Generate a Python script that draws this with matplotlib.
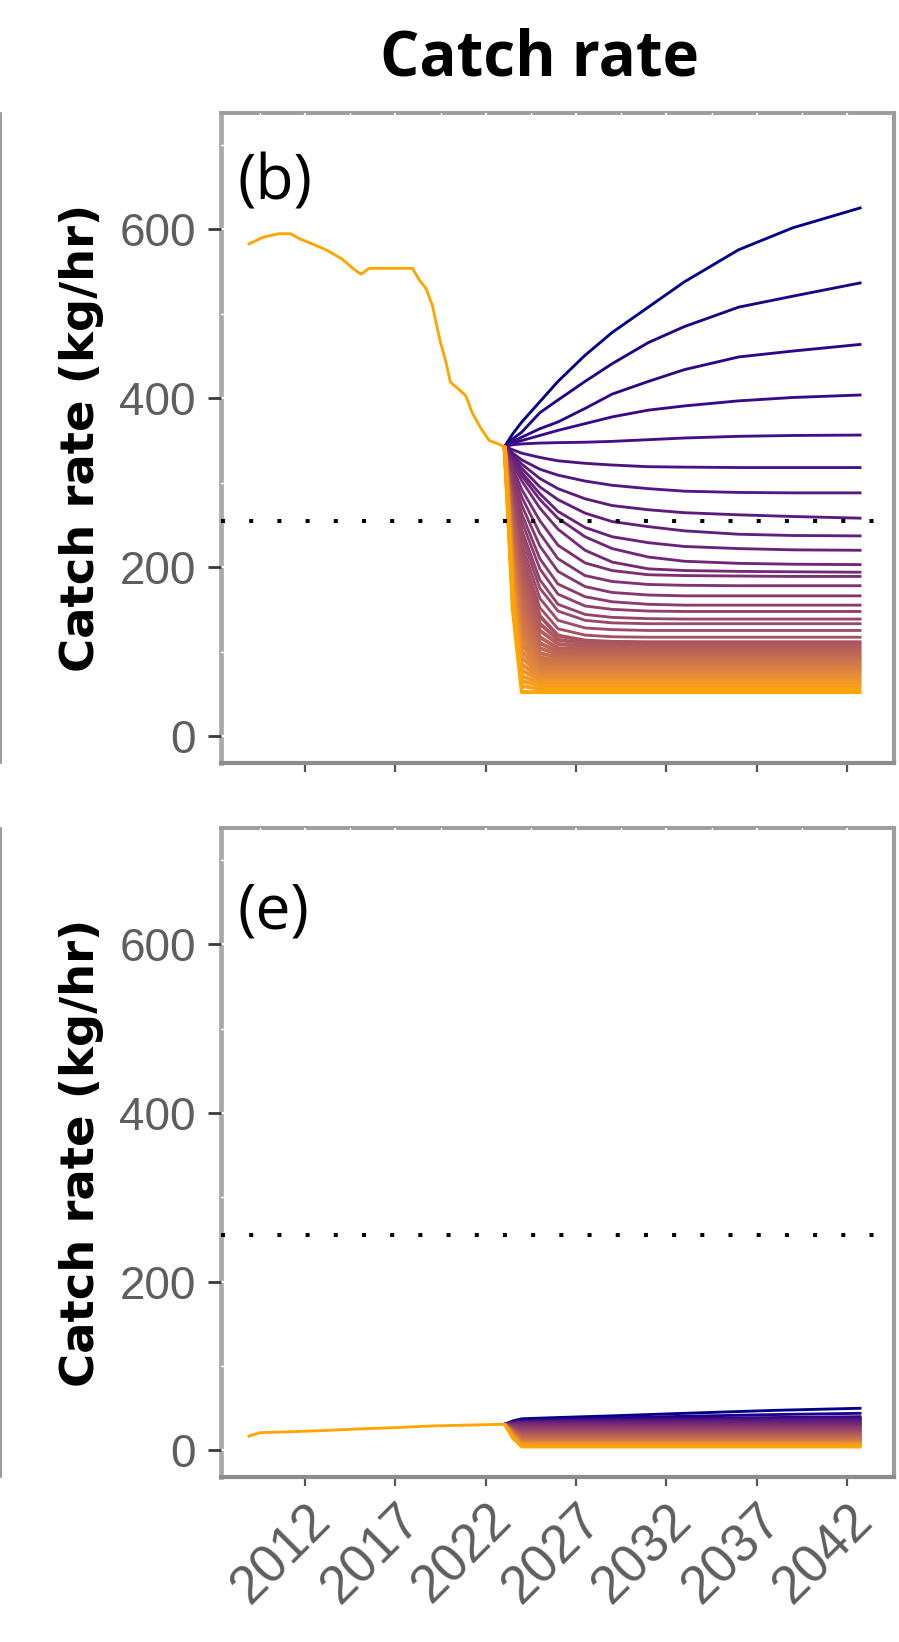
import numpy as np
import matplotlib
matplotlib.use("Agg")
import matplotlib.pyplot as plt

# ---------------- data ----------------
hist_years_b = [2008.9, 2009.1, 2009.7, 2010.55, 2011.2, 2011.7, 2012.4, 2013.25, 2014.05,
                2014.7, 2015.1, 2015.55, 2017.95, 2018.3, 2018.7, 2019.05, 2019.25, 2019.5,
                2019.8, 2020.05, 2020.5, 2020.9, 2021.25, 2021.75, 2022.2, 2022.8, 2023.05]
hist_vals_b = [583, 585, 591, 595, 595, 589, 583, 575, 565, 553, 547, 554, 554, 541, 530,
               510, 490, 466, 443, 419, 411, 403, 383, 364, 350, 345, 343]

proj_years_b = [2023.05, 2023.5, 2024, 2025, 2026, 2027.5, 2029, 2031, 2033, 2036, 2039, 2042.8]
proj_vals_b = [
    [343, 358, 372, 396, 420, 451, 478, 508, 538, 576, 602, 626],
    [343, 352, 360, 383, 398, 420, 441, 466, 485, 508, 521, 537],
    [343, 349, 354, 364, 372, 388, 405, 420, 434, 449, 456, 464],
    [343, 347, 350, 356, 362, 370, 378, 386, 391, 397, 401, 404],
    [343, 345, 346, 347, 347.5, 348, 349, 351, 353, 355, 356, 356.5],
    [343, 339, 335, 330, 326, 323, 321, 319, 318.5, 318, 318, 318],
    [343, 335, 327, 316, 309, 302, 297, 293, 290, 288.5, 288, 288],
    [343, 332, 322, 305, 293, 281, 273, 268, 264.5, 262, 260, 258],
    [343, 329, 317, 295, 280, 264, 254, 248, 243, 239, 237.5, 237],
    [343, 327, 312, 287, 266, 247, 236, 229, 224.5, 222, 220.5, 220],
    [343, 325, 308, 280, 258, 236, 222, 212, 207, 204.5, 203.5, 203],
    [343, 322, 302, 270, 245, 220, 206, 198, 196, 195, 194.5, 194],
    [343, 317, 292, 255, 226, 205, 196, 191, 190, 189.5, 189, 189],
    [343, 312, 283, 240, 210, 190, 183, 179.5, 178.5, 178, 178, 178],
    [343, 307, 273, 225, 195, 177, 170, 167, 166, 166, 166, 166],
    [343, 301, 263, 210, 180, 165, 159, 156, 155, 155, 155, 155],
    [343, 296, 254, 198, 168, 154, 150, 148, 147.5, 147.5, 147.5, 147.5],
    [343, 290, 244, 185, 156, 144, 140.5, 139, 138.5, 138.5, 138.5, 138.5],
    [343, 285, 236, 175, 148, 137, 134, 133, 133, 133, 133, 133],
    [343, 279, 227, 163, 137, 128, 126, 125, 125, 125, 125, 125],
    [343, 273, 218, 152, 127, 119.5, 117.5, 117, 117, 117, 117, 117],
    [343, 267, 209, 142, 119, 113, 111.5, 111, 111, 111, 111, 111],
    [343, 261, 200, 133, 114, 109.5, 108, 108, 108, 108, 108, 108],
    [343, 255, 191, 125, 109, 106, 105, 105, 105, 105, 105, 105],
    [343, 249, 182, 117, 104, 102.5, 102, 102, 102, 102, 102, 102],
    [343, 243, 173, 110, 100, 99, 99, 99, 99, 99, 99, 99],
    [343, 237, 164, 104, 97, 96, 96, 96, 96, 96, 96, 96],
    [343, 231, 155, 98, 93.5, 93, 93, 93, 93, 93, 93, 93],
    [343, 225, 146, 93, 90, 90, 90, 90, 90, 90, 90, 90],
    [343, 219, 137, 89, 87, 87, 87, 87, 87, 87, 87, 87],
    [343, 213, 128, 85, 84, 84, 84, 84, 84, 84, 84, 84],
    [343, 207, 119, 82, 81, 81, 81, 81, 81, 81, 81, 81],
    [343, 201, 110, 78.5, 78, 78, 78, 78, 78, 78, 78, 78],
    [343, 195, 101, 75, 75, 75, 75, 75, 75, 75, 75, 75],
    [343, 189, 93, 72, 72, 72, 72, 72, 72, 72, 72, 72],
    [343, 183, 85, 69, 69, 69, 69, 69, 69, 69, 69, 69],
    [343, 177, 78, 66, 66, 66, 66, 66, 66, 66, 66, 66],
    [343, 171, 71, 63, 63, 63, 63, 63, 63, 63, 63, 63],
    [343, 165, 65, 60, 60, 60, 60, 60, 60, 60, 60, 60],
    [343, 159, 59, 56, 56, 56, 56, 56, 56, 56, 56, 56],
    [343, 150, 52, 52, 52, 52, 52, 52, 52, 52, 52, 52],
]

hist_years_e = [2008.9, 2009.5, 2011, 2013, 2015, 2017, 2019, 2021, 2023.05]
hist_vals_e = [17, 21, 22, 23.5, 25.5, 27, 29, 30, 31]

proj_years_e = [2023.05, 2023.5, 2024, 2026, 2029, 2033, 2038, 2042.8]
proj_vals_e = [
    [31, 35, 37.5, 39, 41, 44, 47.5, 50],
    [31, 34, 35.5, 37, 38.5, 40.5, 42.5, 44],
    [31, 33.5, 35, 36, 37, 38, 39, 40],
    [31, 33, 34.5, 35.5, 36.5, 37, 38, 38.5],
    [31, 33, 34, 35, 36, 36.5, 37, 37.5],
    [31, 32.5, 33.5, 34.5, 35, 35.5, 36, 36.5],
    [31, 32.5, 33, 34, 34.5, 35, 35.5, 35.5],
    [31, 32, 33, 33.5, 34, 34, 34.5, 34.5],
    [31, 32, 32.5, 33, 33, 33.5, 33.5, 33.5],
    [31, 31.5, 32, 32, 32.5, 32.5, 32.5, 32.5],
    [31, 31, 31.5, 31.5, 31.5, 31.5, 31.5, 31.5],
    [31, 30.5, 30.5, 30.5, 30.5, 30.5, 30.5, 30.5],
    [31, 30, 29.5, 29.5, 29.5, 29.5, 29.5, 29.5],
    [31, 29.5, 28.5, 28.5, 28.5, 28.5, 28.5, 28.5],
    [31, 29, 27.5, 27.5, 27.5, 27.5, 27.5, 27.5],
    [31, 28.5, 26.5, 26.5, 26.5, 26.5, 26.5, 26.5],
    [31, 27.5, 25, 25, 25, 25, 25, 25],
    [31, 27, 24, 24, 24, 24, 24, 24],
    [31, 26.5, 23, 23, 23, 23, 23, 23],
    [31, 26, 22, 22, 22, 22, 22, 22],
    [31, 25.5, 21, 21, 21, 21, 21, 21],
    [31, 25, 20, 20, 20, 20, 20, 20],
    [31, 24.5, 19, 19, 19, 19, 19, 19],
    [31, 24, 18, 18, 18, 18, 18, 18],
    [31, 23.5, 17, 17, 17, 17, 17, 17],
    [31, 23, 16, 16, 16, 16, 16, 16],
    [31, 22.5, 15, 15, 15, 15, 15, 15],
    [31, 22, 14, 14, 14, 14, 14, 14],
    [31, 21.5, 13, 13, 13, 13, 13, 13],
    [31, 21, 12, 12, 12, 12, 12, 12],
    [31, 20.5, 11, 11, 11, 11, 11, 11],
    [31, 20, 10, 10, 10, 10, 10, 10],
    [31, 19.5, 9.5, 9.5, 9.5, 9.5, 9.5, 9.5],
    [31, 19, 9, 9, 9, 9, 9, 9],
    [31, 18.5, 8.5, 8.5, 8.5, 8.5, 8.5, 8.5],
    [31, 18, 8, 8, 8, 8, 8, 8],
    [31, 17.5, 7.5, 7.5, 7.5, 7.5, 7.5, 7.5],
    [31, 17, 7, 7, 7, 7, 7, 7],
    [31, 16, 6, 6, 6, 6, 6, 6],
    [31, 15, 5, 5, 5, 5, 5, 5],
    [31, 14, 4, 4, 4, 4, 4, 4],
]

reference_level = 255
x_ticks = [2012, 2017, 2022, 2027, 2032, 2037, 2042]
x_tick_labels = ["2012", "2017", "2022", "2027", "2032", "2037", "2042"]
y_ticks = [0, 200, 400, 600]
y_tick_labels = ["0", "200", "400", "600"]

# ---------------- colour ramp (CIELAB, like ggplot's gradient) ----------------
_M = np.array([[0.4124, 0.3576, 0.1805], [0.2126, 0.7152, 0.0722], [0.0193, 0.1192, 0.9505]])
_WP = np.array([0.95047, 1.0, 1.08883])


def _to_lab(hexc):
    rgb = np.array([int(hexc[i:i + 2], 16) for i in (1, 3, 5)]) / 255.0
    lin = np.where(rgb <= 0.04045, rgb / 12.92, ((rgb + 0.055) / 1.055) ** 2.4)
    xyz = _M @ lin / _WP
    d = 6 / 29
    f = np.where(xyz > d ** 3, np.cbrt(xyz), xyz / (3 * d * d) + 4 / 29)
    return np.array([116 * f[1] - 16, 500 * (f[0] - f[1]), 200 * (f[1] - f[2])])


def _from_lab(lab):
    L, a, b = lab
    fy = (L + 16) / 116
    fv = np.array([fy + a / 500, fy, fy - b / 200])
    d = 6 / 29
    xyz = np.where(fv > d, fv ** 3, 3 * d * d * (fv - 4 / 29)) * _WP
    lin = np.clip(np.linalg.inv(_M) @ xyz, 0, 1)
    rgb = np.where(lin <= 0.0031308, 12.92 * lin, 1.055 * lin ** (1 / 2.4) - 0.055)
    return tuple(np.clip(rgb, 0, 1))


lab_hi = _to_lab("#00008B")
lab_lo = _to_lab("#FFA500")


def ramp(n):
    return [_from_lab(lab_hi + (lab_lo - lab_hi) * t) for t in np.linspace(0, 1, n)]


# ---------------- figure ----------------
W, H = 899, 1642
fig = plt.figure(figsize=(W / 100, H / 100), dpi=100)

ax_b = fig.add_axes([221 / W, 1 - 763 / H, 673 / W, 650 / H])
ax_e = fig.add_axes([221 / W, 1 - 1477.4 / H, 673 / W, 649.4 / H])

tick_font = "Liberation Sans"
for ax in (ax_b, ax_e):
    ax.set_xlim(2007.35, 2044.6)
    ax.set_ylim(-32, 738)
    ax.set_xticks(x_ticks)
    ax.set_xticks([2009.5, 2014.5, 2019.5, 2024.5, 2029.5, 2034.5, 2039.5, 2044.5], minor=True)
    ax.set_yticks(y_ticks)
    ax.set_yticklabels(y_tick_labels, fontsize=33, color="#5e5e5e", family=tick_font)
    ax.set_yticks([100, 300, 500, 700], minor=True)
    ax.set_axisbelow(False)
    ax.grid(True, which="major", color="white", lw=1.5)
    ax.grid(True, which="minor", color="white", lw=1.0)
    ax.tick_params(which="minor", length=0)
    ax.tick_params(axis="y", which="major", length=9.5, width=2.0, color="#3a3a3a", pad=8.5)
    ax.tick_params(axis="x", which="major", length=6.5, width=1.6, color="#555555", pad=6)
    for side, col, lw, z in (("left", "#a9a9a9", 3.4, 2.4), ("top", "#9c9c9c", 2.8, 2.4),
                             ("bottom", "#8c8c8c", 3.0, 2.6), ("right", "#9c9c9c", 3.0, 2.6)):
        ax.spines[side].set_color(col)
        ax.spines[side].set_linewidth(lw)
        ax.spines[side].set_zorder(z)
    ax.axhline(reference_level, color="black", lw=2.9, dashes=(1, 6.0),
               dash_capstyle="butt", zorder=4)
    ax.text(-0.208, 0.5, "Catch rate (kg/hr)", transform=ax.transAxes, rotation=90,
            ha="center", va="center", fontsize=33.5, fontweight="bold", family="DejaVu Sans")

ax_b.set_xticklabels([])
ax_e.set_xticklabels(x_tick_labels, rotation=45, ha="right", va="top", rotation_mode="anchor",
                     fontsize=38, color="#5e5e5e", family=tick_font)

# projections
line_w = 2.05
band_w = 2.8
cols_b = ramp(len(proj_vals_b))
for i, (vals, c) in enumerate(zip(proj_vals_b, cols_b)):
    ax_b.plot(proj_years_b, vals, color=c, lw=band_w if i >= 21 else line_w,
              zorder=3, solid_capstyle="butt")
ax_b.plot(hist_years_b, hist_vals_b, color="#FFA500", lw=line_w, zorder=3)

cols_e = ramp(len(proj_vals_e))
for vals, c in zip(proj_vals_e, cols_e):
    ax_e.plot(proj_years_e, vals, color=c, lw=line_w, zorder=3, solid_capstyle="butt")
ax_e.plot(hist_years_e, hist_vals_e, color="#FFA500", lw=line_w, zorder=3)

# panel letters
ax_b.text(0.024, 0.94, "(b)", transform=ax_b.transAxes, ha="left", va="top",
          fontsize=45, family="Open Sans")
ax_e.text(0.024, 0.918, "(e)", transform=ax_e.transAxes, ha="left", va="top",
          fontsize=45, family="Open Sans")

# column title
fig.text(515 / 858, 1 - 75 / H, "Catch rate", ha="center", va="baseline",
         fontsize=44.5, fontweight="bold", family="Open Sans")

# border remnants of the neighbouring panel at the left edge
for ax in (ax_b, ax_e):
    pos = ax.get_position()
    side = fig.add_axes([-0.05, pos.y0, 0.05 + 1.2 / W, pos.height])
    side.set_xticks([])
    side.set_yticks([])
    side.patch.set_alpha(0)
    for s in ("left", "top", "bottom"):
        side.spines[s].set_visible(False)
    side.spines["right"].set_color("#8a8a8a")
    side.spines["right"].set_linewidth(1.2)

fig.savefig("out.png", dpi=100)
